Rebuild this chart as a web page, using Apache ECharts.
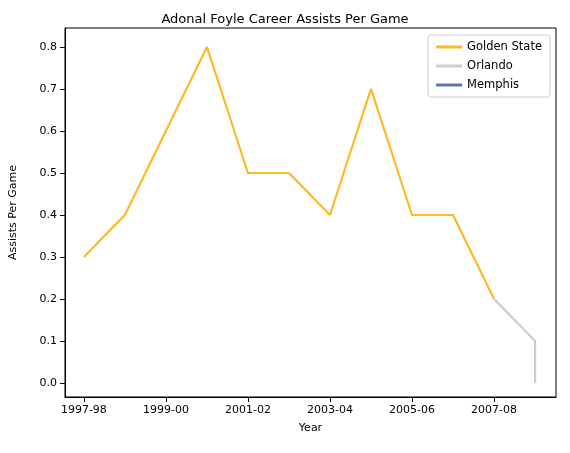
<!DOCTYPE html><html><head><meta charset="utf-8"><script src="https://cdn.jsdelivr.net/npm/echarts@6/dist/echarts.min.js"></script></head><body style="margin:0"><div id="c" style="width:570px;height:453px"></div><script>
const seasons=['1997-98','1998-99','1999-00','2000-01','2001-02','2002-03','2003-04','2004-05','2005-06','2006-07','2007-08','2008-09'];
const gswIdx=[0,1,2,3,4,5,6,7,8,9,10];
const gswVals=[0.3,0.4,0.6,0.8,0.5,0.5,0.4,0.7,0.4,0.4,0.2];
const orlIdx=[10,11,11];
const orlVals=[0.2,0.1,0.0];
const memIdx=[11];
const memVals=[0.0];
const xTicks=[0,2,4,6,8,10];
const yTicks=[0,0.1,0.2,0.3,0.4,0.5,0.6,0.7,0.8];
const z=(a,b)=>a.map((v,i)=>[v,b[i]]);
const font='DejaVu Sans';
const ch=echarts.init(document.getElementById('c'));
ch.setOption({
animation:false,
title:{text:'Adonal Foyle Career Assists Per Game',left:'center',top:8,textStyle:{fontFamily:font,fontSize:13,fontWeight:'normal',color:'#000'}},
legend:{right:20,top:35,orient:'vertical',itemWidth:26,itemHeight:3,itemGap:7,borderColor:'#ccc',borderWidth:1,borderRadius:3,padding:[6,8],textStyle:{fontFamily:font,fontSize:11.5,color:'#000'},icon:'rect',itemStyle:{borderWidth:0},data:['Golden State','Orlando','Memphis']},
grid:{left:65,right:14,top:28,bottom:56,show:true,borderColor:'#000',borderWidth:1,backgroundColor:'transparent'},
xAxis:{type:'value',min:-0.46,max:11.51,name:'Year',nameLocation:'middle',nameGap:26,nameTextStyle:{fontFamily:font,fontSize:11,color:'#000'},
 axisLine:{onZero:false,lineStyle:{color:'#000'}},splitLine:{show:false},
 axisTick:{show:true,customValues:xTicks,lineStyle:{color:'#000'}},
 axisLabel:{customValues:xTicks,formatter:v=>seasons[Math.round(v)],fontFamily:font,fontSize:11,color:'#000'}},
yAxis:{type:'value',min:-0.033,max:0.845,name:'Assists Per Game',nameLocation:'middle',nameGap:46,nameTextStyle:{fontFamily:font,fontSize:11,color:'#000'},
 axisLine:{show:true,onZero:false,lineStyle:{color:'#000'}},splitLine:{show:false},
 axisTick:{show:true,customValues:yTicks,lineStyle:{color:'#000'}},
 axisLabel:{customValues:yTicks,formatter:v=>v.toFixed(1),fontFamily:font,fontSize:11,color:'#000'}},
series:[
{name:'Golden State',type:'line',data:z(gswIdx,gswVals),showSymbol:false,lineStyle:{width:2.2,color:'#FDB927'},itemStyle:{color:'#FDB927'}},
{name:'Orlando',type:'line',data:z(orlIdx,orlVals),showSymbol:false,lineStyle:{width:2.2,color:'#C4CED4'},itemStyle:{color:'#C4CED4'}},
{name:'Memphis',type:'line',data:z(memIdx,memVals),showSymbol:false,lineStyle:{width:2.2,color:'#5D76A9'},itemStyle:{color:'#5D76A9'}}
]});
</script></body></html>
